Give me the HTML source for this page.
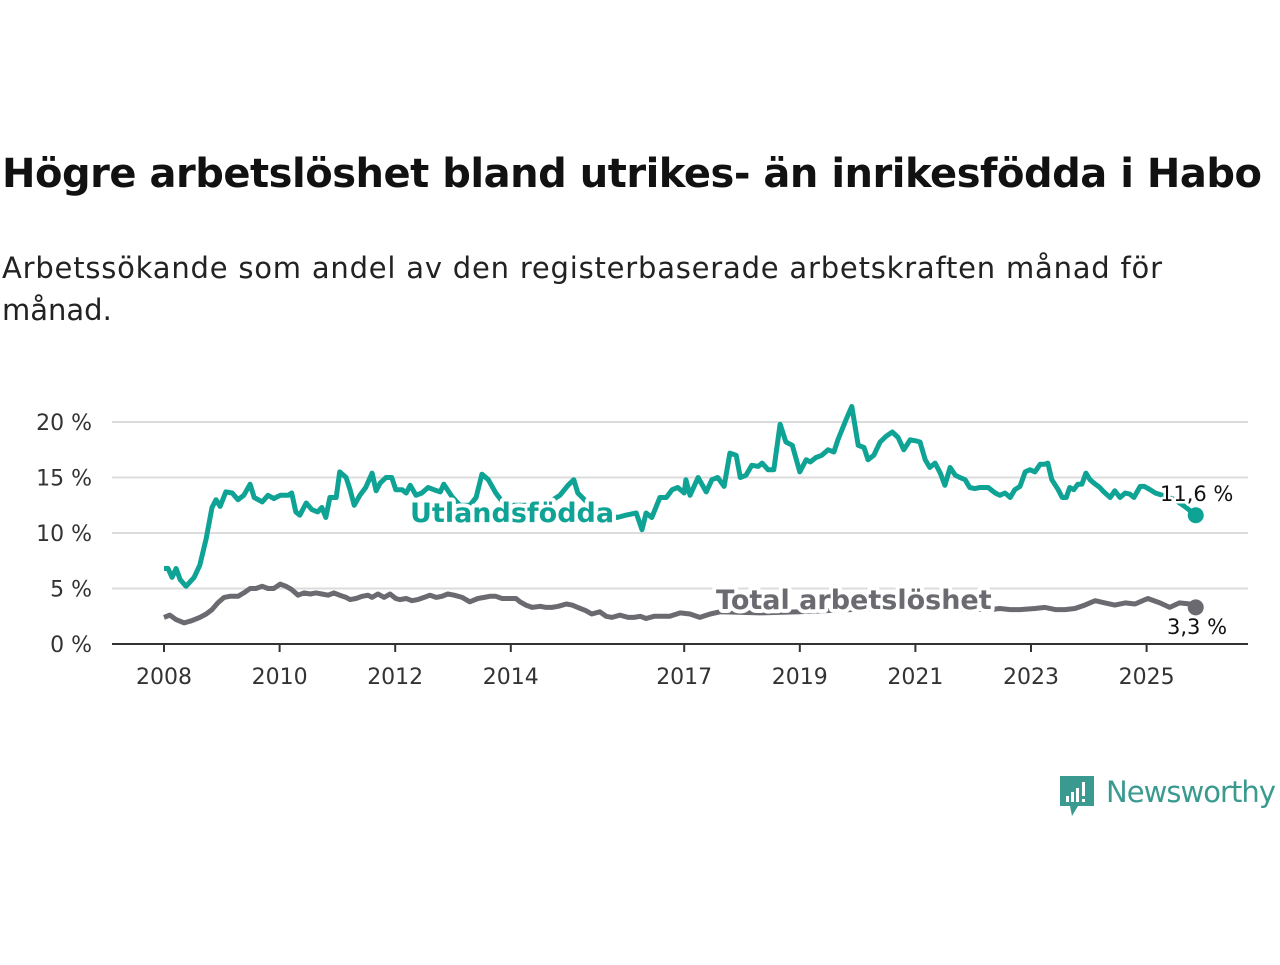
<!DOCTYPE html>
<html><head><meta charset="utf-8">
<style>
body{margin:0;background:#fff;width:1280px;height:960px;overflow:hidden;font-family:"Liberation Sans","DejaVu Sans",sans-serif;}
svg text{font-family:"DejaVu Sans","Liberation Sans",sans-serif;}
</style></head>
<body>
<svg id="chart" width="1280" height="960" viewBox="0 0 1280 960">
<text x="2" y="187" font-size="40" font-weight="bold" fill="#111" textLength="1260">Högre arbetslöshet bland utrikes- än inrikesfödda i Habo</text>
<text x="2" y="278" font-size="29" fill="#222" textLength="1160">Arbetssökande som andel av den registerbaserade arbetskraften månad för</text>
<text x="2" y="320" font-size="29" fill="#222">månad.</text>
<g id="grid"></g><g id="axes"></g><g id="lines"></g><g id="labels"></g>
<g>
<path d="M1060 776 h34 v30 h-16 l-6 10 l-2 -10 h-10 z" fill="#3a9a8f"/>
<rect x="1066" y="796" width="3" height="6" fill="#fff"/><rect x="1071" y="792" width="3" height="10" fill="#fff"/><rect x="1076" y="788" width="3" height="14" fill="#fff"/><rect x="1082" y="782" width="3" height="14" fill="#fff"/><rect x="1082" y="799" width="3" height="3" fill="#fff"/>
<text x="1106" y="802" font-size="29" fill="#3a9a8f" font-family="Liberation Sans, sans-serif" textLength="170">Newsworthy</text>
</g>
</svg>
<script>
const yTicks=[0,5,10,15,20];
const xTicks=[2008,2010,2012,2014,2017,2019,2021,2023,2025];
const foreignDates=[2008.00,2008.07,2008.14,2008.21,2008.28,2008.38,2008.52,2008.62,2008.73,2008.83,2008.90,2008.97,2009.07,2009.18,2009.28,2009.38,2009.49,2009.56,2009.70,2009.80,2009.90,2010.01,2010.15,2010.21,2010.28,2010.35,2010.46,2010.56,2010.66,2010.73,2010.80,2010.87,2010.98,2011.04,2011.15,2011.22,2011.29,2011.39,2011.49,2011.60,2011.67,2011.74,2011.84,2011.94,2012.01,2012.12,2012.19,2012.26,2012.36,2012.46,2012.57,2012.67,2012.78,2012.84,2012.98,2013.12,2013.29,2013.40,2013.50,2013.61,2013.74,2013.90,2014.16,2014.42,2014.64,2014.85,2014.99,2015.09,2015.16,2015.37,2015.61,2015.84,2015.99,2016.17,2016.27,2016.34,2016.44,2016.58,2016.69,2016.79,2016.89,2017.00,2017.03,2017.10,2017.24,2017.38,2017.48,2017.58,2017.69,2017.79,2017.90,2017.97,2018.07,2018.17,2018.28,2018.35,2018.45,2018.55,2018.66,2018.76,2018.87,2019.00,2019.11,2019.18,2019.28,2019.38,2019.49,2019.59,2019.66,2019.80,2019.90,2020.01,2020.11,2020.18,2020.28,2020.39,2020.49,2020.60,2020.70,2020.80,2020.91,2021.01,2021.08,2021.17,2021.25,2021.34,2021.43,2021.51,2021.60,2021.69,2021.77,2021.86,2021.94,2022.03,2022.12,2022.26,2022.38,2022.46,2022.55,2022.64,2022.72,2022.81,2022.90,2022.98,2023.07,2023.16,2023.24,2023.29,2023.36,2023.47,2023.54,2023.61,2023.67,2023.74,2023.81,2023.88,2023.95,2024.02,2024.09,2024.19,2024.26,2024.37,2024.45,2024.54,2024.63,2024.71,2024.78,2024.89,2024.96,2025.06,2025.15,2025.27,2025.49,2025.66,2025.85];
const foreignValues=[6.8,6.8,6.0,6.8,5.8,5.2,6.0,7.1,9.5,12.3,13.0,12.4,13.7,13.6,13.0,13.4,14.4,13.2,12.8,13.4,13.1,13.4,13.4,13.6,11.9,11.6,12.7,12.1,11.9,12.3,11.4,13.2,13.2,15.5,15.0,13.9,12.5,13.4,14.1,15.4,13.8,14.5,15.0,15.0,13.9,13.9,13.6,14.3,13.4,13.6,14.1,13.9,13.7,14.4,13.3,12.5,12.5,13.2,15.3,14.8,13.6,12.5,12.5,12.5,12.7,13.4,14.3,14.8,13.6,12.5,11.8,11.4,11.6,11.8,10.3,11.8,11.4,13.2,13.2,13.9,14.1,13.6,14.8,13.4,15.0,13.7,14.8,15.0,14.2,17.2,17.0,15.0,15.2,16.1,16.0,16.3,15.7,15.7,19.8,18.2,17.9,15.5,16.6,16.4,16.8,17.0,17.5,17.3,18.4,20.2,21.4,17.9,17.7,16.6,17.0,18.2,18.7,19.1,18.6,17.5,18.4,18.3,18.2,16.6,15.9,16.3,15.4,14.3,15.9,15.2,15.0,14.8,14.1,14.0,14.1,14.1,13.6,13.4,13.6,13.2,13.9,14.2,15.5,15.7,15.5,16.2,16.2,16.3,14.8,13.9,13.2,13.2,14.1,13.9,14.4,14.4,15.4,14.8,14.5,14.1,13.7,13.2,13.8,13.2,13.6,13.5,13.2,14.2,14.2,13.9,13.6,13.4,13.0,12.4,11.6];
const totalDates=[2008.00,2008.10,2008.21,2008.35,2008.48,2008.62,2008.73,2008.83,2008.93,2009.04,2009.14,2009.28,2009.38,2009.49,2009.59,2009.70,2009.80,2009.90,2010.01,2010.11,2010.21,2010.32,2010.42,2010.53,2010.63,2010.73,2010.84,2010.94,2011.04,2011.15,2011.22,2011.32,2011.43,2011.53,2011.60,2011.70,2011.81,2011.91,2012.01,2012.08,2012.19,2012.29,2012.39,2012.50,2012.60,2012.71,2012.81,2012.91,2013.02,2013.16,2013.29,2013.43,2013.54,2013.64,2013.74,2013.85,2013.99,2014.09,2014.16,2014.26,2014.37,2014.51,2014.61,2014.71,2014.82,2014.96,2015.06,2015.16,2015.30,2015.40,2015.54,2015.65,2015.75,2015.89,2016.03,2016.13,2016.24,2016.34,2016.48,2016.62,2016.75,2016.93,2017.10,2017.27,2017.45,2017.62,2018.31,2019.00,2019.87,2020.73,2021.60,2022.29,2022.46,2022.64,2022.81,2023.07,2023.24,2023.42,2023.59,2023.76,2023.93,2024.11,2024.28,2024.45,2024.63,2024.80,2025.02,2025.23,2025.40,2025.57,2025.75,2025.85];
const totalValues=[2.4,2.6,2.2,1.9,2.1,2.4,2.7,3.1,3.7,4.2,4.3,4.3,4.6,5.0,5.0,5.2,5.0,5.0,5.4,5.2,4.9,4.4,4.6,4.5,4.6,4.5,4.4,4.6,4.4,4.2,4.0,4.1,4.3,4.4,4.2,4.5,4.2,4.5,4.1,4.0,4.1,3.9,4.0,4.2,4.4,4.2,4.3,4.5,4.4,4.2,3.8,4.1,4.2,4.3,4.3,4.1,4.1,4.1,3.8,3.5,3.3,3.4,3.3,3.3,3.4,3.6,3.5,3.3,3.0,2.7,2.9,2.5,2.4,2.6,2.4,2.4,2.5,2.3,2.5,2.5,2.5,2.8,2.7,2.4,2.7,2.9,2.8,2.9,3.1,3.3,3.2,3.1,3.2,3.1,3.1,3.2,3.3,3.1,3.1,3.2,3.5,3.9,3.7,3.5,3.7,3.6,4.1,3.7,3.3,3.7,3.6,3.3];

const NS='http://www.w3.org/2000/svg';
const X0=112,X1=1248,Y0=644,Y1=422;
const xs=d=>164+(d-2008)*57.8;
const ys=v=>Y0-(v/20)*(Y0-Y1);
function mk(tag,attrs,parent){const e=document.createElementNS(NS,tag);for(const k in attrs)e.setAttribute(k,attrs[k]);parent.appendChild(e);return e;}
const grid=document.getElementById('grid'),axes=document.getElementById('axes'),lines=document.getElementById('lines'),labels=document.getElementById('labels');
yTicks.forEach(t=>{
  if(t>0){const g=mk('line',{x1:X0,x2:X1,y1:ys(t),y2:ys(t),stroke:'#dcdcdc','stroke-width':2},grid);
  
  }
  const tx=mk('text',{x:92,y:ys(t)+8,'text-anchor':'end','font-size':22,fill:'#333'},axes);
  tx.textContent=t+' %';
  
  
});
const ax=mk('line',{x1:X0,x2:X1,y1:Y0,y2:Y0,stroke:'#333','stroke-width':2},axes);


xTicks.forEach(t=>{
  const tk=mk('line',{x1:xs(t),x2:xs(t),y1:Y0,y2:Y0+8,stroke:'#333','stroke-width':2},axes);
  
  
  const tx=mk('text',{x:xs(t),y:Y0+40,'text-anchor':'middle','font-size':22,fill:'#333'},axes);
  tx.textContent=t;
  
  
});
function path(d,v){return d.map((x,i)=>(i?'L':'M')+xs(x).toFixed(1)+' '+ys(v[i]).toFixed(1)).join(' ');}
const tl=mk('path',{d:path(totalDates,totalValues),fill:'none',stroke:'#6b6a70','stroke-width':5,'stroke-linejoin':'round'},lines);


const fl=mk('path',{d:path(foreignDates,foreignValues),fill:'none',stroke:'#0fa395','stroke-width':5,'stroke-linejoin':'round'},lines);


const fd=mk('circle',{cx:xs(foreignDates[foreignDates.length-1]),cy:ys(foreignValues[foreignValues.length-1]),r:8,fill:'#0fa395'},lines);


const td=mk('circle',{cx:xs(totalDates[totalDates.length-1]),cy:ys(totalValues[totalValues.length-1]),r:8,fill:'#6b6a70'},lines);


function lab(x,y,txt,fill,bold,name,size){
  const t=mk('text',{x:x,y:y,'font-size':size,fill:fill,'font-weight':bold?'bold':'normal',stroke:'#fff','stroke-width':bold?8:5,'paint-order':'stroke','stroke-linejoin':'round'},labels);
  t.textContent=txt;
  
  
}
lab(410,522,'Utlandsfödda','#0fa395',true,'foreign-born-series-label',27);
lab(716,609,'Total arbetslöshet','#6b6a70',true,'total-series-label',27);
lab(1160,501,'11,6 %','#111',false,'foreign-born-end-value',21);
lab(1167,634,'3,3 %','#111',false,'total-end-value',21);
</script>
</body></html>
